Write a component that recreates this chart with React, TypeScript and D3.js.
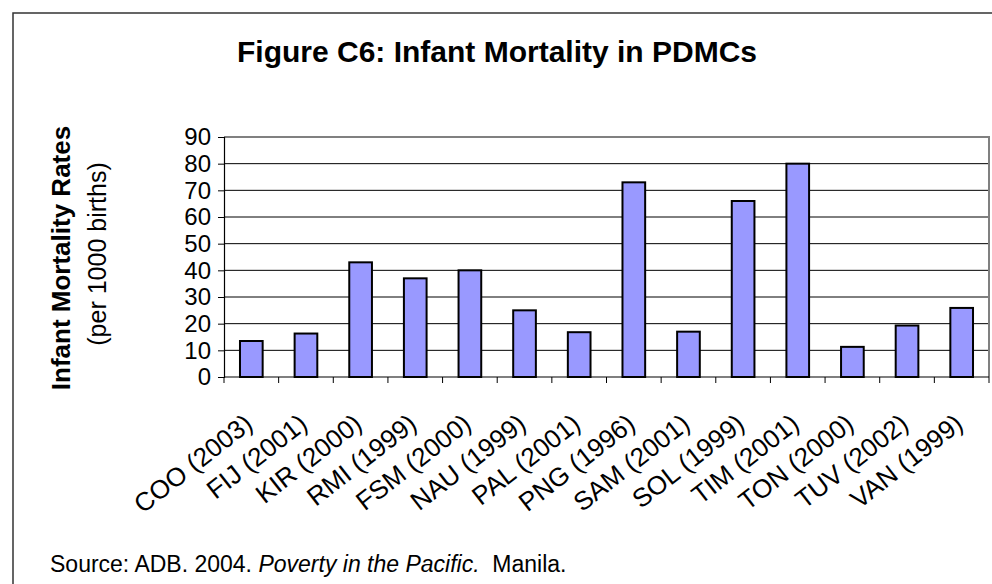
import React, { useEffect, useRef } from "react";
import * as d3 from "d3";

const categories = [
  "COO (2003)", "FIJ (2001)", "KIR (2000)", "RMI (1999)", "FSM (2000)", "NAU (1999)", "PAL (2001)",
  "PNG (1996)", "SAM (2001)", "SOL (1999)", "TIM (2001)", "TON (2000)", "TUV (2002)", "VAN (1999)",
];
const values = [13.5, 16.3, 43, 37, 40, 25, 16.8, 73, 17, 66, 80, 11.3, 19.3, 25.9];
const yTicks = [0, 10, 20, 30, 40, 50, 60, 70, 80, 90];

const W = 992, H = 584;
const M = { left: 224, right: 989, top: 137, bottom: 377 };
const FONT = "Arial, 'Liberation Sans', Helvetica, sans-serif";

export default function App() {
  const ref = useRef<SVGSVGElement>(null);
  useEffect(() => {
    const svg = d3.select(ref.current);
    svg.selectAll("*").remove();

    // outer frame (top & left visible)
    svg.append("path").attr("d", `M13,${H} L13,13 L${W},13`).attr("fill", "none").attr("stroke", "#333").attr("stroke-width", 1.5);

    const x = d3.scaleBand<string>().domain(categories).range([M.left, M.right]).paddingInner(0).paddingOuter(0);
    const y = d3.scaleLinear().domain([0, 90]).range([M.bottom, M.top]);

    // gridlines
    svg.append("g").selectAll("line").data(yTicks.filter(t => t > 0 && t < 90)).join("line")
      .attr("x1", M.left).attr("x2", M.right).attr("y1", d => y(d)).attr("y2", d => y(d))
      .attr("stroke", "#000").attr("stroke-width", 1);
    // plot border top/right grey
    svg.append("path").attr("d", `M${M.left},${y(90)} L${M.right},${y(90)} L${M.right},${M.bottom}`)
      .attr("fill", "none").attr("stroke", "#808080").attr("stroke-width", 2);

    // bars
    const bw = x.bandwidth() * 0.415;
    svg.append("g").selectAll("rect").data(values).join("rect")
      .attr("x", (d, i) => (x(categories[i]) as number) + (x.bandwidth() - bw) / 2)
      .attr("y", d => y(d)).attr("width", bw).attr("height", d => M.bottom - y(d))
      .attr("fill", "#9999FF").attr("stroke", "#000").attr("stroke-width", 2);

    // y axis
    const ya = svg.append("g").attr("transform", `translate(${M.left},0)`)
      .call(d3.axisLeft(y).tickValues(yTicks).tickSize(6).tickPadding(7).tickFormat(d3.format("d")));
    ya.select(".domain").attr("stroke", "#000").attr("stroke-width", 1.2);
    ya.selectAll(".tick line").attr("stroke", "#000");
    ya.selectAll("text").attr("font-family", FONT).attr("font-size", 24).attr("fill", "#000");

    // x axis
    const xa = svg.append("g").attr("transform", `translate(0,${M.bottom})`);
    xa.append("line").attr("x1", M.left).attr("x2", M.right).attr("stroke", "#000").attr("stroke-width", 1.2);
    const bounds = categories.map(c => x(c) as number).concat([M.right]);
    xa.selectAll("line.tk").data(bounds).join("line").attr("class", "tk")
      .attr("x1", d => d).attr("x2", d => d).attr("y1", 0).attr("y2", 6).attr("stroke", "#000");
    xa.selectAll("text").data(categories).join("text")
      .attr("transform", c => `translate(${(x(c) as number) + x.bandwidth() / 2 + 3},${50}) rotate(-38)`)
      .attr("text-anchor", "end").attr("font-family", FONT).attr("font-size", 26).attr("fill", "#000")
      .text(c => c);

    // title
    svg.append("text").attr("x", 497).attr("y", 62).attr("text-anchor", "middle")
      .attr("font-family", FONT).attr("font-weight", "bold").attr("font-size", 30).text("Figure C6: Infant Mortality in PDMCs");

    // y title
    svg.append("text").attr("transform", `translate(70,258) rotate(-90)`).attr("text-anchor", "middle")
      .attr("font-family", FONT).attr("font-weight", "bold").attr("font-size", 26).text("Infant Mortality Rates");
    svg.append("text").attr("transform", `translate(106,254) rotate(-90)`).attr("text-anchor", "middle")
      .attr("font-family", FONT).attr("font-size", 25).text("(per 1000 births)");

    // source
    const src = svg.append("text").attr("x", 50).attr("y", 572).attr("font-family", FONT).attr("font-size", 23);
    src.append("tspan").text("Source: ADB. 2004. ");
    src.append("tspan").attr("font-style", "italic").text("Poverty in the Pacific.");
    src.append("tspan").text("\u00a0 Manila.");
  }, []);
  return (
    <svg ref={ref} width={W} height={H} style={{ position: "absolute", left: 0, top: 0, background: "#fff" }} />
  );
}
